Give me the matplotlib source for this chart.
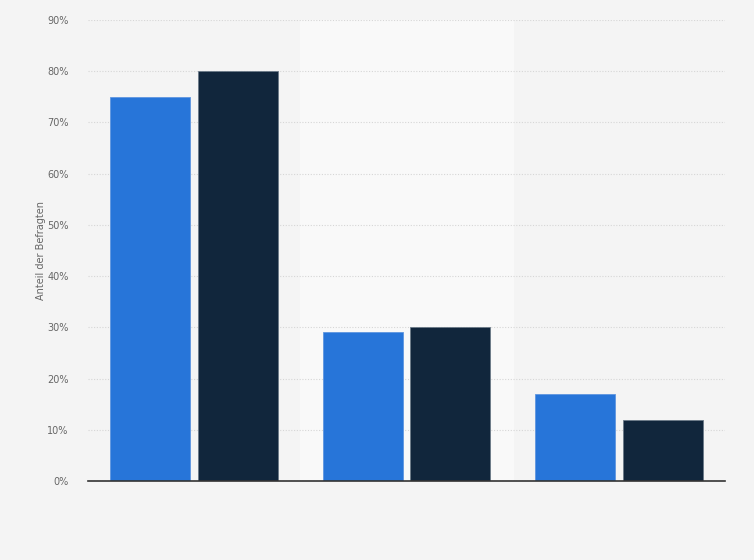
import matplotlib.pyplot as plt
import numpy as np

categories = ['A', 'B', 'C']
series_1 = [75, 29, 17]
series_2 = [80, 30, 12]
yticks = [0, 10, 20, 30, 40, 50, 60, 70, 80, 90]

fig = plt.figure(figsize=(7.54, 5.6), dpi=100)
fig.patch.set_facecolor('#f4f4f4')
ax = fig.add_axes([88 / 754, 1 - 481 / 560, 637 / 754, 461 / 560])
ax.set_facecolor('#f4f4f4')

x = np.arange(len(categories))
w = 0.377
off = 0.207

# lighter band behind the middle group
ax.axvspan(0.5, 1.5, color='#f9f9f9', zorder=0)

ax.bar(x - off, series_1, width=w, color='#2775d9', edgecolor='#5f96e0', linewidth=0.6, zorder=3)
ax.bar(x + off, series_2, width=w, color='#11263c', edgecolor='#6b7a88', linewidth=0.6, zorder=3)

ax.set_xlim(-0.5, 2.5)
ax.set_ylim(0, 90)
ax.set_yticks(yticks)
ax.set_yticklabels([f'{t}%' for t in yticks], color='#666666', fontsize=7)
ax.set_xticks([])
ax.tick_params(axis='y', length=0, pad=14)
ax.grid(axis='y', color='#d6d6d6', linestyle=(0, (1, 1.5)), linewidth=0.8, zorder=1)

for s in ['top', 'right', 'left']:
    ax.spines[s].set_visible(False)
ax.spines['bottom'].set_color('#333333')
ax.spines['bottom'].set_linewidth(1.2)
ax.spines['bottom'].set_zorder(4)

ax.set_ylabel('Anteil der Befragten', color='#666666', fontsize=7, labelpad=1)

plt.savefig('out.png', dpi=100, facecolor=fig.get_facecolor())
